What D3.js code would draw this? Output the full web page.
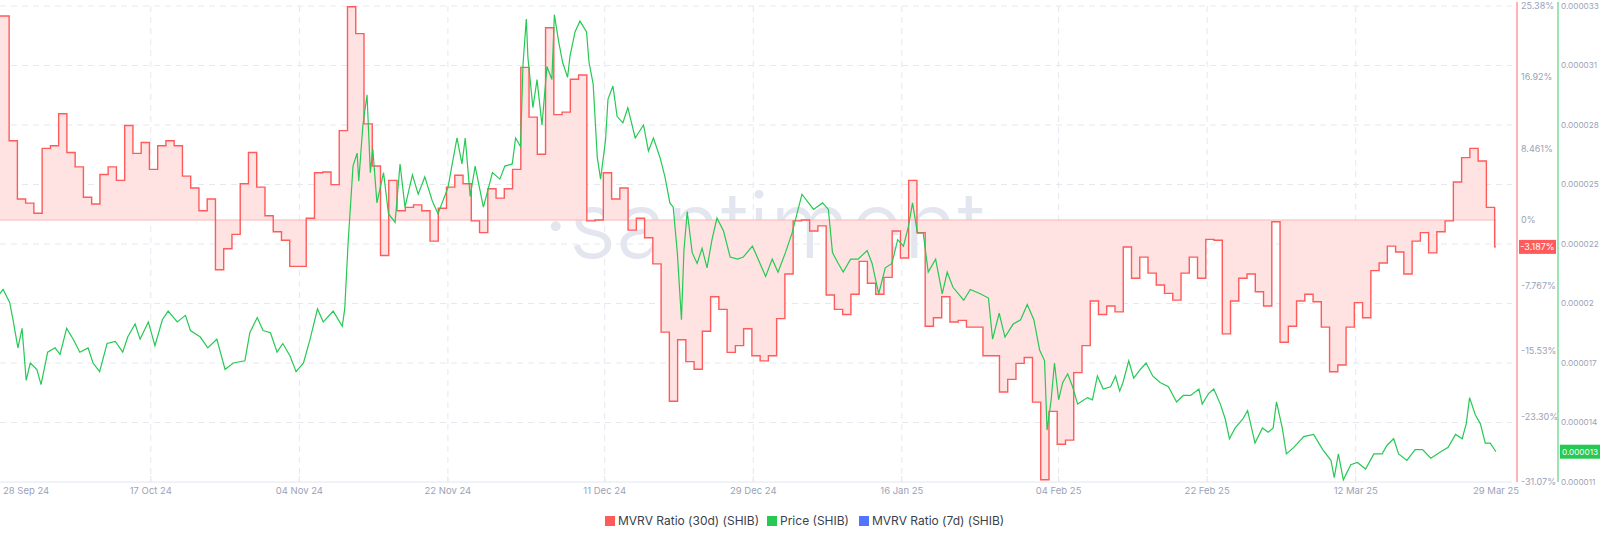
<!DOCTYPE html>
<html>
<head>
<meta charset="utf-8">
<script src="https://cdn.jsdelivr.net/npm/d3@7"></script>
<style>
  body { margin: 0; background: #fff; font-family: Inter, "Noto Sans", sans-serif; }
</style>
</head>
<body>
<div id="chart"></div>
<script>
// MVRV 30d, one value per day starting at mvrvStart (percent)
const mvrvStart = "2024-09-27T20:00:00";
const mvrv = [24.2, 24.2, 9.4, 2.5, 2.0, 0.8, 8.5, 8.8, 12.6, 8.0, 6.3, 2.7, 1.9, 5.4, 6.3, 4.7, 11.2, 7.9, 9.2, 6.0,
  8.8, 9.4, 8.8, 5.2, 3.8, 1.1, 2.5, -5.9, -3.4, -1.7, 4.3, 8.0, 3.9, 0.5, -1.4, -2.4, -5.5, -5.5, 0.2, 5.6,
  5.7, 4.2, 10.6, 25.3, 22.1, 11.4, 6.4, -4.2, 4.7, 1.1, 1.5, 1.8, 1.1, -2.5, 1.4, 3.9, 5.3, 4.3, -0.1, -1.5,
  3.7, 2.6, 3.7, 6.0, 18.1, 12.2, 7.8, 22.8, 12.5, 12.8, 16.7, 17.2, -0.1, 0.0, 5.6, 2.5, 3.8, -1.2, 0.2, -2.1,
  -5.2, -13.3, -21.5, -14.2, -16.8, -17.7, -13.2, -9.1, -10.6, -15.7, -14.9, -12.9, -16.1, -16.7, -16.1, -11.7, -6.4, -0.1, 0.0, -1.3,
  -0.7, -8.9, -10.6, -11.2, -8.8, -4.9, -7.5, -8.8, -6.8, -1.3, -4.5, 4.7, -1.5, -12.6, -11.6, -9.1, -12.1, -11.9, -12.7, -12.7,
  -16.1, -16.1, -20.4, -18.9, -17.0, -16.3, -21.6, -30.8, -22.7, -26.6, -26.1, -18.1, -14.9, -9.6, -11.2, -10.2, -10.9, -3.2, -6.9, -4.4,
  -6.3, -7.7, -8.7, -9.5, -6.3, -4.4, -6.9, -2.3, -2.4, -13.5, -9.6, -6.9, -6.4, -8.5, -10.2, -0.2, -14.5, -12.6, -9.6, -8.8,
  -9.7, -12.7, -18.0, -17.2, -12.7, -9.8, -11.6, -6.0, -5.1, -3.1, -3.8, -6.4, -2.5, -1.5, -3.9, -1.4, -0.1, 4.5, 7.4, 8.5,
  7.0, 1.5, -3.187];

// price: [days since 28 Sep 2024, price in millionths of USD]
const priceStart = "2024-09-28T00:00:00";
const price = [
  [0.7,19.7],[1.1,19.9],[1.9,19.3],[2.3,18.5],[2.9,17.2],[3.4,18.1],[3.9,15.7],[4.4,16.5],[5.2,16.2],[5.7,15.5],
  [6.5,17.0],[7.4,17.2],[8.0,16.9],[8.8,18.1],[9.6,17.6],[10.4,17.0],[11.4,17.2],[12.0,16.5],[12.8,16.1],[13.7,17.4],
  [14.7,17.5],[15.6,17.0],[16.2,17.7],[17.1,18.3],[17.7,17.6],[18.7,18.4],[19.5,17.3],[20.4,18.5],[21.1,18.9],[22.2,18.4],
  [23.2,18.7],[23.8,18.0],[25.0,17.7],[25.9,17.2],[27.0,17.6],[28.0,16.2],[29.0,16.5],[30.4,16.6],[31.0,17.9],[31.9,18.6],
  [32.6,18.0],[33.5,17.9],[34.3,17.0],[35.0,17.4],[35.9,16.8],[36.6,16.1],[37.5,16.5],[38.3,17.6],[39.2,19.0],[39.9,18.4],
  [41.1,18.9],[42.2,18.2],[42.5,19.0],[42.9,22.0],[43.5,25.6],[44.0,26.2],[44.2,24.9],[44.7,27.5],[45.2,28.9],[45.6,25.3],
  [45.9,26.4],[46.4,23.9],[47.2,25.3],[47.8,23.4],[48.6,23.0],[49.2,25.7],[49.8,23.7],[50.7,25.2],[51.4,24.3],[52.2,25.1],
  [53.1,24.0],[53.8,23.4],[55.0,24.6],[56.1,26.9],[56.7,25.7],[57.1,26.9],[57.7,24.2],[58.3,25.6],[59.3,23.7],[60.4,25.3],
  [61.3,25.0],[61.9,25.6],[62.8,25.7],[63.2,26.9],[63.8,26.5],[64.1,30.3],[64.5,32.4],[64.7,30.6],[65.3,28.3],[65.8,29.6],
  [66.4,27.5],[67.0,30.2],[67.6,29.6],[67.9,32.6],[68.4,31.4],[68.9,30.4],[69.5,29.7],[69.8,30.7],[70.4,31.8],[71.0,32.3],
  [71.8,31.8],[72.1,30.4],[72.6,29.4],[73.1,26.0],[73.5,25.0],[74.1,26.8],[74.4,28.7],[75.0,29.3],[75.5,27.9],[76.2,27.6],
  [76.8,28.3],[77.7,26.9],[78.7,27.5],[79.3,26.3],[79.9,26.9],[80.7,26.0],[81.3,25.1],[81.9,23.9],[82.3,23.7],[82.8,21.6],
  [83.3,18.5],[83.6,21.7],[84.0,23.5],[84.6,21.6],[85.2,21.1],[85.8,21.8],[86.4,20.9],[87.0,22.2],[87.6,23.2],[88.4,22.6],
  [89.2,21.4],[90.1,21.3],[90.8,21.4],[91.9,21.9],[92.6,21.3],[93.5,20.5],[94.3,21.3],[95.0,20.7],[95.9,21.6],[96.7,22.5],
  [97.3,23.4],[97.9,24.3],[98.7,23.9],[99.3,23.6],[100.4,23.9],[101.1,23.6],[101.6,21.6],[102.3,21.1],[102.9,20.7],[103.8,21.3],
  [104.7,21.3],[105.8,21.7],[106.4,21.1],[107.2,19.7],[108.0,20.9],[108.8,21.1],[109.5,22.2],[110.2,21.9],[110.8,22.8],[111.3,23.9],
  [111.9,22.5],[112.6,22.5],[113.2,20.7],[114.1,21.3],[114.9,19.7],[115.5,20.7],[116.2,20.0],[117.5,19.4],[118.3,19.9],[119.5,19.7],
  [120.5,19.5],[121.0,17.6],[121.8,18.8],[122.5,17.7],[123.5,18.3],[124.4,18.5],[125.2,19.2],[126.0,18.5],[126.7,17.1],[127.3,16.6],
  [127.6,13.4],[128.1,14.8],[128.5,16.5],[129.0,14.8],[129.5,15.6],[130.1,16.0],[130.7,15.4],[131.3,14.6],[132.5,14.9],[133.1,14.8],
  [133.7,15.9],[134.4,15.3],[135.3,15.4],[135.9,15.9],[136.4,15.2],[136.8,15.6],[137.5,16.6],[138.1,15.8],[138.9,16.2],[139.6,16.5],
  [140.4,15.9],[141.3,15.6],[142.3,15.4],[143.3,14.7],[144.1,15.0],[145.0,15.0],[146.0,15.3],[146.4,14.6],[147.2,15.1],[147.8,15.3],
  [148.6,14.6],[149.2,13.9],[149.7,13.0],[150.4,13.5],[151.3,13.9],[151.9,14.3],[152.8,12.8],[153.7,13.5],[154.4,13.3],[155.0,13.5],
  [155.4,14.7],[156.1,13.5],[156.6,12.3],[157.5,12.6],[158.7,13.1],[159.9,13.2],[161.0,12.5],[162.0,12.0],[162.4,11.2],[162.9,12.3],
  [163.5,11.1],[164.4,11.8],[165.2,11.9],[166.2,11.6],[167.2,12.3],[168.2,12.3],[168.8,12.7],[169.6,13.0],[170.2,12.3],[171.2,12.0],
  [172.2,12.5],[173.1,12.5],[174.1,12.1],[175.3,12.4],[176.2,12.6],[177.1,13.2],[177.9,13.0],[178.4,13.7],[178.8,14.9],[179.5,14.1],
  [180.1,13.7],[180.7,12.8],[181.3,12.8],[182.0,12.4]
];

const mvrvTicks = [25.38, 16.92, 8.461, 0, -7.767, -15.53, -23.30, -31.07];
const mvrvTickLabels = ["25.38%", "16.92%", "8.461%", "0%", "-7.767%", "-15.53%", "-23.30%", "-31.07%"];
const priceTicks = [33, 30.25, 27.5, 24.75, 22, 19.25, 16.5, 13.75, 11];
const priceTickLabels = ["0.000033", "0.000031", "0.000028", "0.000025", "0.000022", "0.00002", "0.000017", "0.000014", "0.000011"];
const dateTicks = ["2024-09-28", "2024-10-17", "2024-11-04", "2024-11-22", "2024-12-11", "2024-12-29",
  "2025-01-16", "2025-02-04", "2025-02-22", "2025-03-12", "2025-03-29"];
const dateTickLabels = ["28 Sep 24", "17 Oct 24", "04 Nov 24", "22 Nov 24", "11 Dec 24", "29 Dec 24",
  "16 Jan 25", "04 Feb 25", "22 Feb 25", "12 Mar 25", "29 Mar 25"];
const legendItems = [
  { name: "MVRV Ratio (30d) (SHIB)", color: "#ff5b5b" },
  { name: "Price (SHIB)", color: "#26c953" },
  { name: "MVRV Ratio (7d) (SHIB)", color: "#5275ff" }
];

(function () {
  const W = 1600, H = 541;
  const top = 6, bottom = 482, left = 0, right = 1496, gridRight = 1512;
  const red = "#ff5b5b", green = "#26c953", tickColor = "#9aa2b8";

  const svg = d3.select("#chart").append("svg").attr("width", W).attr("height", H);

  const parse = d3.isoParse;
  const t0 = parse(priceStart);
  const m0 = parse(mvrvStart);
  const day = 864e5;

  const x = d3.scaleTime()
    .domain([parse("2024-09-28T00:00:00"), parse("2025-03-29T00:00:00")])
    .range([-6, right]);
  const yM = d3.scaleLinear().domain([-31.07, 25.38]).range([bottom, top]);
  const yP = d3.scaleLinear().domain([11, 33]).range([bottom, top]);

  // grid
  const grid = svg.append("g").attr("stroke", "#e6e8f0").attr("stroke-dasharray", "6,5");
  grid.selectAll(".h").data(priceTicks.slice(0, -1)).join("line")
    .attr("x1", left).attr("x2", gridRight)
    .attr("y1", d => yP(d)).attr("y2", d => yP(d));
  grid.selectAll(".v").data(dateTicks.slice(1, -1)).join("line")
    .attr("x1", d => x(parse(d))).attr("x2", d => x(parse(d)))
    .attr("y1", top).attr("y2", bottom);
  svg.append("line").attr("x1", left).attr("x2", gridRight).attr("y1", bottom).attr("y2", bottom)
    .attr("stroke", "#e3e6ef");
  svg.selectAll(".tk").data(dateTicks.slice(1, -1)).join("line")
    .attr("x1", d => x(parse(d))).attr("x2", d => x(parse(d)))
    .attr("y1", bottom - 6).attr("y2", bottom).attr("stroke", "#e3e6ef");

  // watermark
  svg.append("text").attr("x", 776).attr("y", 258).attr("text-anchor", "middle")
    .attr("font-size", 92).attr("font-weight", 300).attr("fill", "#e3e5ef")
    .text("·santiment·");

  svg.append("clipPath").attr("id", "plot").append("rect")
    .attr("x", left).attr("y", 0).attr("width", right - left).attr("height", bottom + 2);

  // MVRV step area
  const mv = mvrv.map((v, i) => ({ date: new Date(+m0 + i * day), v }));
  mv.push({ date: x.domain()[1], v: mvrv[mvrv.length - 1] });
  const g = svg.append("g").attr("clip-path", "url(#plot)");
  g.append("path").datum(mv)
    .attr("d", d3.area().curve(d3.curveStepAfter).x(d => x(d.date)).y0(yM(0)).y1(d => yM(d.v)))
    .attr("fill", "#ffe3e3");
  g.append("line").attr("x1", left).attr("x2", right).attr("y1", yM(0)).attr("y2", yM(0))
    .attr("stroke", "#ffb3b3").attr("stroke-width", 1.2);
  g.append("path").datum(mv)
    .attr("d", d3.line().curve(d3.curveStepAfter).x(d => x(d.date)).y(d => yM(d.v)))
    .attr("fill", "none").attr("stroke", red).attr("stroke-width", 1.4);

  // price line
  g.append("path").datum(price)
    .attr("d", d3.line().x(d => x(new Date(+t0 + d[0] * day))).y(d => yP(d[1])))
    .attr("fill", "none").attr("stroke", green).attr("stroke-width", 1.2);

  // right axes
  svg.append("line").attr("x1", 1517).attr("x2", 1517).attr("y1", 2).attr("y2", bottom)
    .attr("stroke", "#ff8080").attr("stroke-width", 1.2);
  svg.append("line").attr("x1", 1558).attr("x2", 1558).attr("y1", 2).attr("y2", bottom)
    .attr("stroke", "#5cd47e").attr("stroke-width", 1.2);
  svg.selectAll(".ml").data(mvrvTicks).join("text")
    .attr("x", 1521).attr("y", d => yM(d)).attr("dy", "0.35em")
    .attr("font-size", 9).attr("fill", tickColor)
    .text((d, i) => mvrvTickLabels[i]);
  svg.selectAll(".pl").data(priceTicks).join("text")
    .attr("x", 1561).attr("y", d => yP(d)).attr("dy", "0.35em")
    .attr("font-size", 8.2).attr("fill", tickColor)
    .text((d, i) => priceTickLabels[i]);

  // last value badges
  const lastM = mvrv[mvrv.length - 1];
  svg.append("rect").attr("x", 1519).attr("y", yM(lastM) - 7).attr("width", 37).attr("height", 14).attr("fill", red);
  svg.append("text").attr("x", 1537.5).attr("y", yM(lastM)).attr("dy", "0.35em").attr("text-anchor", "middle")
    .attr("font-size", 9).attr("fill", "#fff").text(lastM + "%");
  const lastP = price[price.length - 1][1];
  svg.append("rect").attr("x", 1560).attr("y", yP(lastP) - 7).attr("width", 40).attr("height", 14).attr("fill", green);
  svg.append("text").attr("x", 1580).attr("y", yP(lastP)).attr("dy", "0.35em").attr("text-anchor", "middle")
    .attr("font-size", 8.2).attr("fill", "#fff").text("0.000013");

  // date labels
  svg.selectAll(".dl").data(dateTicks).join("text")
    .attr("x", (d, i) => i === 0 ? 3 : x(parse(d)))
    .attr("y", 494)
    .attr("text-anchor", (d, i) => i === 0 ? "start" : "middle")
    .attr("font-size", 9.5).attr("fill", tickColor)
    .text((d, i) => dateTickLabels[i]);

  // legend
  const lx = [605, 767, 859];
  const lg = svg.selectAll(".lg").data(legendItems).join("g")
    .attr("transform", (d, i) => `translate(${lx[i]},521)`);
  lg.append("rect").attr("x", 0).attr("y", -5).attr("width", 10).attr("height", 10).attr("fill", d => d.color);
  lg.append("text").attr("x", 13).attr("dy", "0.35em").attr("font-size", 12).attr("fill", "#3b3f4a")
    .text(d => d.name);
})();
</script>
</body>
</html>
